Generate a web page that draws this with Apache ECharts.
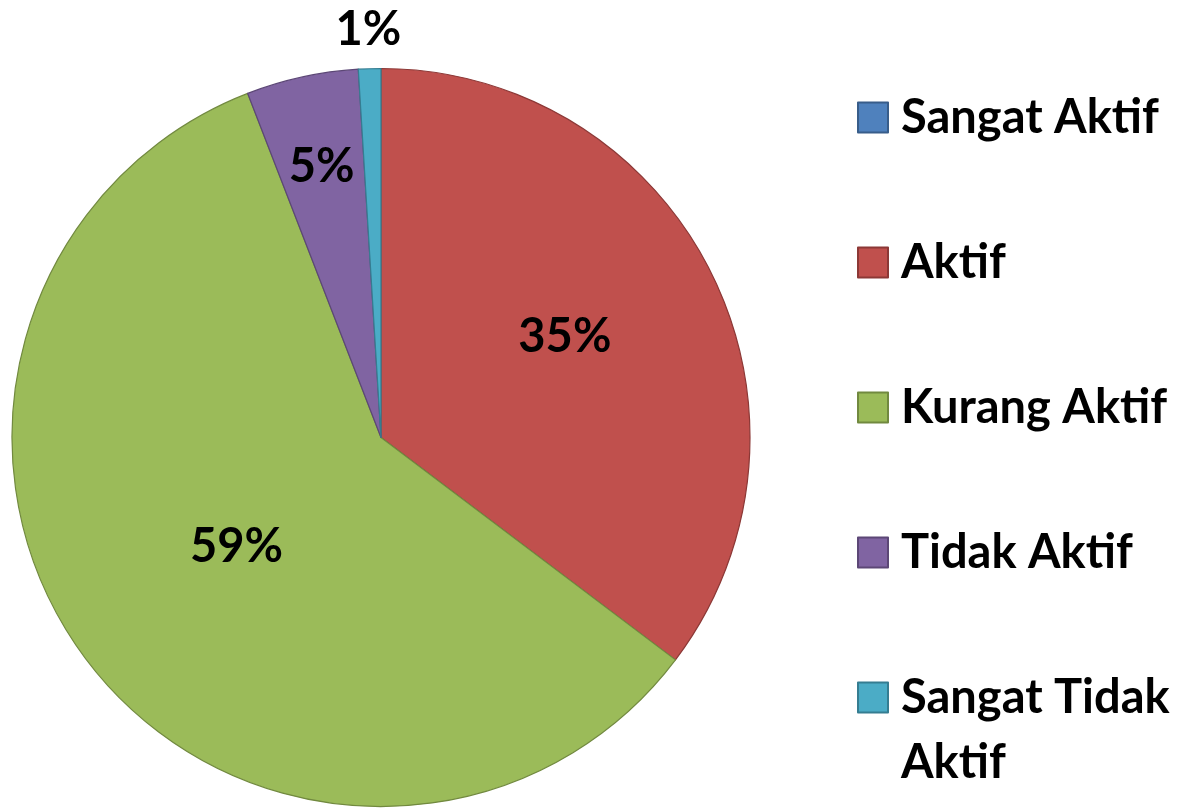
<!DOCTYPE html>
<html><head><meta charset="utf-8">
<script src="https://cdn.jsdelivr.net/npm/echarts@6/dist/echarts.min.js"></script>
<style>html,body{margin:0;padding:0;background:#fff}#c{width:1201px;height:808px}</style>
</head><body><div id="c"></div>
<script>
// ---- data ----
const categories = ['Sangat Aktif', 'Aktif', 'Kurang Aktif', 'Tidak Aktif', 'Sangat Tidak Aktif'];
const counts = [0, 36, 60, 5, 1];

// ---- styles ----
const fillColors = ['#4F81BD', '#C0504D', '#9BBB59', '#8064A2', '#4BACC6'];
const borderColors = ['#385D8A', '#8C3836', '#71893F', '#5C4776', '#357D91'];
const labelRadius = [null, 208, 178, 274, 405];
const labelOffset = [null, [-5, -7], [0, 0], [0, 0], [0, 0]];
const CENTER = [381, 437.5];
const R = 369;
const FONT = 'Lato';
const FS = 47;

const fmt = p => Math.round(p.percent) + '%';

const series = [{
  type: 'pie',
  center: CENTER,
  radius: [0, R],
  startAngle: 90,
  clockwise: true,
  animation: false,
  silent: true,
  label: { show: false },
  labelLine: { show: false },
  emphasis: { disabled: true },
  data: categories.map((n, i) => ({
    name: n, value: counts[i],
    itemStyle: { color: fillColors[i], borderColor: borderColors[i], borderWidth: 1.2 }
  }))
}];

labelRadius.forEach((r, i) => {
  if (r == null) return;
  series.push({
    type: 'pie',
    center: CENTER,
    radius: [r - 4, r + 4],
    startAngle: 90,
    clockwise: true,
    animation: false,
    silent: true,
    emphasis: { disabled: true },
    labelLine: { show: false },
    itemStyle: { color: 'rgba(0,0,0,0)', borderWidth: 0 },
    label: {
      show: true, position: 'inside', formatter: fmt, offset: labelOffset[i],
      fontFamily: FONT, fontSize: FS, fontWeight: 'bold', color: '#000'
    },
    data: categories.map((n, j) => ({ name: n, value: counts[j], label: { show: j === i } }))
  });
});

const legendText = {
  fontFamily: FONT, fontSize: FS, fontWeight: 'bold', color: '#000',
  lineHeight: 65, padding: [0, 0, 0, 8]
};

const option = {
  backgroundColor: '#fff',
  legend: [{
    orient: 'vertical',
    left: 857, top: 85,
    padding: 0,
    icon: 'rect',
    itemWidth: 30, itemHeight: 30,
    itemGap: 80,
    selectedMode: false,
    textStyle: legendText,
    data: categories.slice(0, 4)
  }, {
    orient: 'vertical',
    left: 857, top: 600,
    padding: 0,
    icon: 'rect',
    itemWidth: 30, itemHeight: 30,
    selectedMode: false,
    formatter: n => '\n' + n.replace('Sangat Tidak ', 'Sangat Tidak\n'),
    textStyle: legendText,
    data: categories.slice(4)
  }],
  series: series
};

const chart = echarts.init(document.getElementById('c'), null, { renderer: 'canvas' });
chart.setOption(option);
</script>
</body></html>
